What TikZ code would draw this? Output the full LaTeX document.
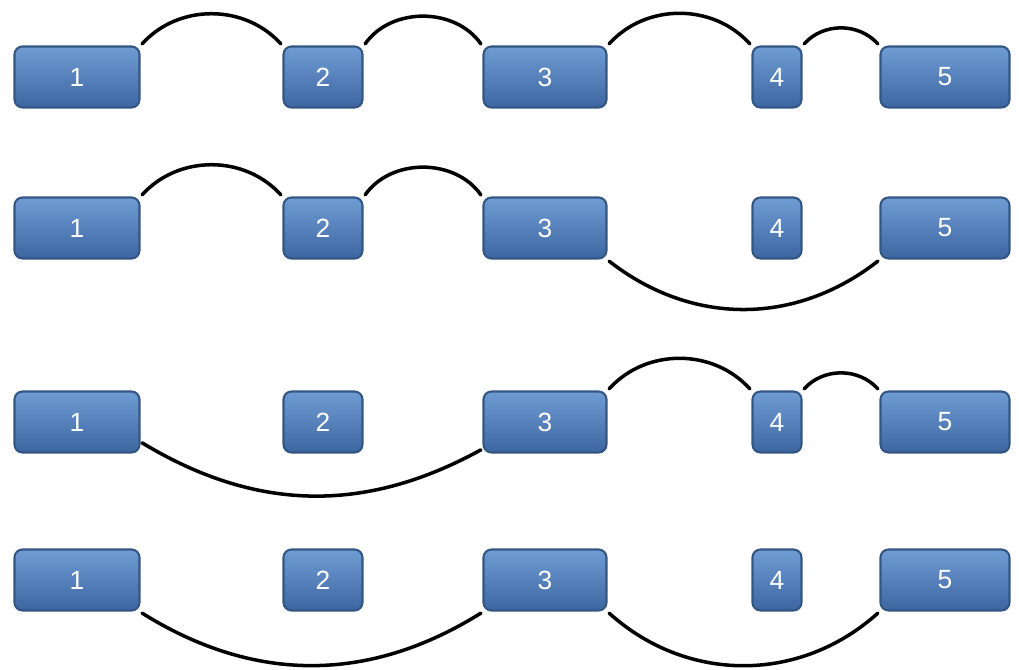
\documentclass[tikz,border=0pt]{standalone}
\usepackage{fontspec}
\setsansfont{Liberation Sans}
\definecolor{boxtop}{RGB}{112,156,212}
\definecolor{boxbot}{RGB}{60,102,160}
\definecolor{boxline}{RGB}{52,86,132}

\tikzset{
  blk/.style={draw=boxline, line width=1.2pt, rounded corners=4.5pt,
    top color=boxtop, bottom color=boxbot, minimum height=1.22cm,
    inner sep=0pt, outer sep=1.5pt, text=white,
    font=\sffamily\fontsize{15}{17}\selectfont},
  arc/.style={line width=2pt, line cap=round}
}

\begin{document}
\begin{tikzpicture}[x=0.02cm,y=-0.02cm]
  \useasboundingbox (0,0) rectangle (1019,670);
  \foreach \r/\y in {1/77,2/228,3/422,4/580}{
    \node[blk, minimum width=2.5cm]  (r\r-1) at (77,\y){1};
    \node[blk, minimum width=1.58cm] (r\r-2) at (323,\y){2};
    \node[blk, minimum width=2.46cm] (r\r-3) at (545,\y){3};
    \node[blk, minimum width=0.98cm] (r\r-4) at (777,\y){4};
    \node[blk, minimum width=2.58cm] (r\r-5) at (945,\y){5};
  }
  % row 1: 1-2-3-4-5
  \draw[arc] (r1-1.north east) to[bend left=48] (r1-2.north west);
  \draw[arc] (r1-2.north east) to[bend left=55] (r1-3.north west);
  \draw[arc] (r1-3.north east) to[bend left=48] (r1-4.north west);
  \draw[arc] (r1-4.north east) to[bend left=48] (r1-5.north west);
  % row 2: 1-2-3-5
  \draw[arc] (r2-1.north east) to[bend left=48] (r2-2.north west);
  \draw[arc] (r2-2.north east) to[bend left=55] (r2-3.north west);
  \draw[arc] (r2-3.south east) to[bend right=38] (r2-5.south west);
  % row 3: 1-3-4-5
  \draw[arc] ([yshift=7pt]r3-1.south east) to[bend right=30] ([yshift=3pt]r3-3.south west);
  \draw[arc] (r3-3.north east) to[bend left=48] (r3-4.north west);
  \draw[arc] (r3-4.north east) to[bend left=48] (r3-5.north west);
  % row 4: 1-3-5
  \draw[arc] (r4-1.south east) to[bend right=32] (r4-3.south west);
  \draw[arc] (r4-3.south east) to[bend right=42] (r4-5.south west);
\end{tikzpicture}
\end{document}
